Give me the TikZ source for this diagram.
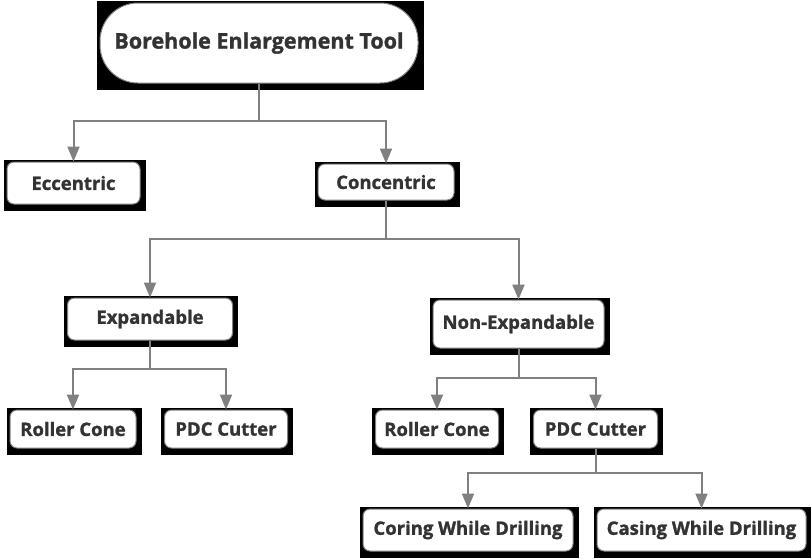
\documentclass[tikz,border=0pt]{standalone}
\usepackage{fontspec}
\setmainfont{Open Sans}[BoldFont={Open Sans Bold}, BoldFeatures={FakeBold=1.3}]
\usetikzlibrary{arrows.meta,calc}
\definecolor{txt}{HTML}{333333}
\definecolor{ln}{HTML}{808080}
\pgfdeclarelayer{bg}
\pgfsetlayers{bg,main}
\tikzset{
 box/.style={draw=ln, line width=1pt, fill=white, rounded corners=7pt, text=txt,
   font=\bfseries\fontsize{18.5}{21}\selectfont, inner sep=0pt, align=center},
 conn/.style={draw=ln, line width=2pt, -{Triangle[width=12pt,length=15pt]}},
}
\begin{document}
\begin{tikzpicture}[x=1pt,y=-1pt]
\useasboundingbox (0,0) rectangle (811,558);
\node[box, rounded corners=38pt, minimum width=318pt, minimum height=80pt,
      font=\bfseries\fontsize{21.5}{25}\selectfont] (root) at (259,43) {Borehole Enlargement Tool};
\node[box, minimum width=133pt, minimum height=42pt] (ecc) at (73.5,183) {Eccentric};
\node[box, minimum width=136pt, minimum height=36pt] (con) at (386,182) {Concentric};
\node[box, minimum width=165pt, minimum height=42pt] (exp) at (150,319) {Expandable};
\node[box, minimum width=171pt, minimum height=48pt] (nexp) at (518.5,324) {Non-Expandable};
\node[box, minimum width=126pt, minimum height=38pt] (rc1) at (73,429) {Roller Cone};
\node[box, minimum width=123pt, minimum height=38pt] (pdc1) at (226,429) {PDC Cutter};
\node[box, minimum width=123pt, minimum height=38pt] (rc2) at (437,429) {Roller Cone};
\node[box, minimum width=124pt, minimum height=38pt] (pdc2) at (595.5,429) {PDC Cutter};
\node[box, minimum width=210pt, minimum height=42pt] (cor) at (468,530) {Coring While Drilling};
\node[box, minimum width=209pt, minimum height=42pt] (cas) at (701.5,530) {Casing While Drilling};
\begin{pgfonlayer}{bg}
\foreach \n in {root,ecc,con,exp,nexp,rc1,pdc1,rc2,pdc2,cor,cas}
  \fill[black] ($(\n.north west)+(-3,-2)$) rectangle ($(\n.south east)+(5,6)$);
\end{pgfonlayer}
\draw[conn] (root.south) -- ++(0,37) -| (ecc.north);
\draw[conn] (root.south) -- ++(0,37) -| (con.north);
\draw[conn] (con.south) -- ++(0,38) -| (exp.north);
\draw[conn] (con.south) -- ++(0,38) -| (nexp.north);
\draw[conn] (exp.south) -- ++(0,28) -| (rc1.north);
\draw[conn] (exp.south) -- ++(0,28) -| (pdc1.north);
\draw[conn] (nexp.south) -- ++(0,29) -| (rc2.north);
\draw[conn] (nexp.south) -- ++(0,29) -| (pdc2.north);
\draw[conn] (pdc2.south) -- ++(0,24) -| (cor.north);
\draw[conn] (pdc2.south) -- ++(0,24) -| (cas.north);
\end{tikzpicture}
\end{document}
